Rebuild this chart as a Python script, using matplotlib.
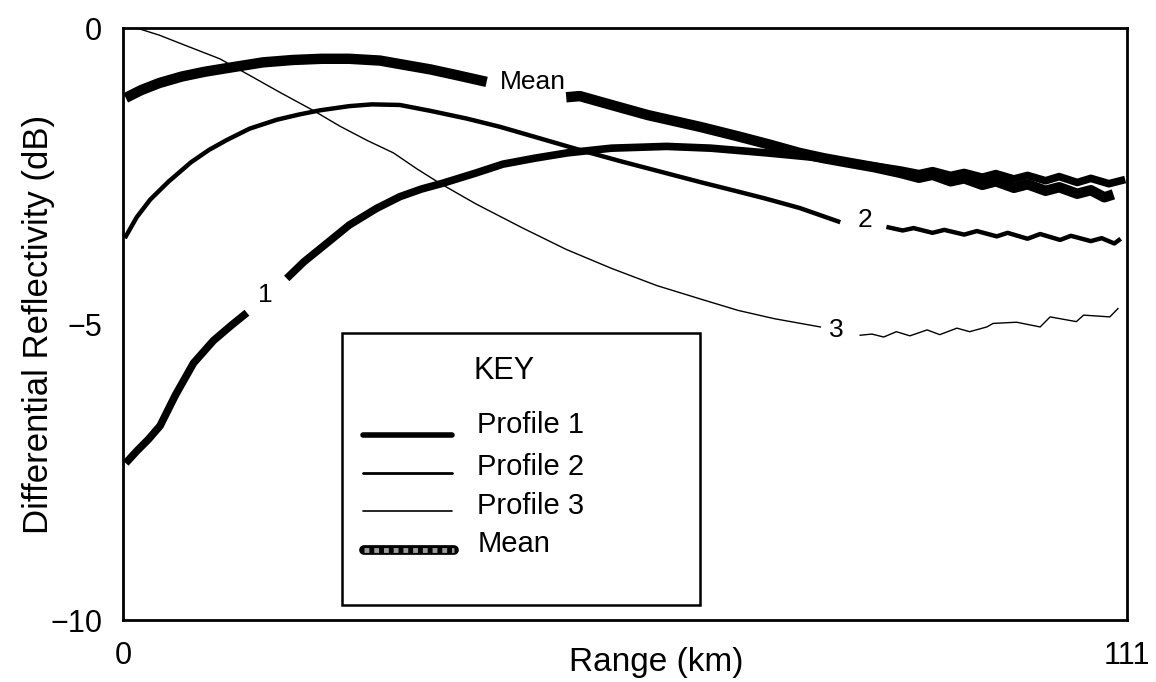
import matplotlib.pyplot as plt
import numpy as np
from matplotlib.lines import Line2D
from matplotlib.patches import Rectangle

plt.rcParams["font.family"] = ["Liberation Sans", "DejaVu Sans"]

nan = np.nan

p1_x = [0.3, 1.5, 2.8, 4.1, 5.8, 7.8, 10.0, 12.0, 13.7, nan, 18.1, 20.0, 22.1, 25.0, 28.0,
        30.6, 33.0, 35.4, 39.0, 42.0, 45.5, 49.1, 54.0, 60.1, 65.0, 71.2, 76.0, 80.4, 83.5,
        86.0, 88.0, 89.5, 91.5, 93.0, 95.0, 96.5, 98.5, 100.0, 102.0, 103.5, 105.5, 107.0,
        109.0, 110.8]
p1_y = [-7.35, -7.15, -6.95, -6.72, -6.20, -5.66, -5.28, -5.02, -4.81, nan, -4.23, -3.95,
        -3.69, -3.33, -3.05, -2.85, -2.72, -2.62, -2.45, -2.30, -2.20, -2.11, -2.03, -2.00,
        -2.03, -2.11, -2.18, -2.28, -2.34, -2.40, -2.46, -2.41, -2.49, -2.44, -2.52, -2.46,
        -2.55, -2.49, -2.58, -2.51, -2.61, -2.54, -2.63, -2.56]

p2_x = [0.2, 1.5, 3.0, 5.0, 7.5, 9.5, 11.5, 14.0, 17.0, 19.5, 21.8, 25.0, 27.5, 30.6, 34.0,
        38.0, 41.7, 46.0, 50.5, 55.0, 60.0, 64.0, 67.4, 71.0, 74.8, 79.3, nan, 84.4, 86.2,
        87.4, 89.5, 90.8, 93.0, 94.4, 96.6, 97.8, 100.0, 101.4, 103.6, 104.8, 107.0, 108.2,
        109.6, 110.3]
p2_y = [-3.55, -3.20, -2.90, -2.60, -2.27, -2.06, -1.89, -1.70, -1.55, -1.46, -1.39, -1.32,
        -1.29, -1.30, -1.40, -1.53, -1.67, -1.86, -2.06, -2.25, -2.45, -2.61, -2.74, -2.88,
        -3.04, -3.28, nan, -3.36, -3.42, -3.38, -3.46, -3.41, -3.49, -3.43, -3.52, -3.46,
        -3.56, -3.48, -3.58, -3.51, -3.60, -3.55, -3.64, -3.56]

p3_x = [1.5, 4.0, 7.0, 10.7, 14.0, 17.5, 21.0, 24.0, 27.0, 29.9, 32.5, 35.0, 39.0, 44.2,
        49.0, 54.0, 59.0, 64.1, 68.0, 72.0, 77.1, nan, 81.5, 82.8, 84.1, 85.5, 87.0, 88.9,
        90.3, 92.2, 93.6, 95.5, 96.2, 98.8, 101.4, 102.5, 105.4, 106.2, 109.1, 110.0]
p3_y = [0.0, -0.12, -0.30, -0.52, -0.80, -1.10, -1.39, -1.66, -1.90, -2.11, -2.38, -2.62,
        -2.97, -3.38, -3.74, -4.06, -4.35, -4.59, -4.77, -4.91, -5.05, nan, -5.19, -5.17,
        -5.22, -5.13, -5.20, -5.10, -5.18, -5.07, -5.13, -5.05, -4.99, -4.97, -5.05, -4.88,
        -4.96, -4.85, -4.88, -4.74]

mean_x = [0.3, 2.0, 4.0, 6.5, 9.0, 12.2, 15.5, 18.8, 22.0, 25.0, 28.4, 31.0, 34.0, 37.0,
          40.2, nan, 49.0, 50.5, 54.0, 58.0, 63.8, 68.0, 71.5, 74.8, 77.5, 80.4, 83.0, 86.0,
          88.0, 89.5, 91.5, 93.0, 95.0, 96.5, 98.5, 100.0, 102.0, 103.5, 105.5, 107.0,
          108.5, 109.5]
mean_y = [-1.18, -1.05, -0.93, -0.82, -0.74, -0.66, -0.58, -0.54, -0.52, -0.52, -0.55,
          -0.62, -0.70, -0.80, -0.91, nan, -1.17, -1.15, -1.30, -1.47, -1.67, -1.83, -1.97,
          -2.11, -2.20, -2.28, -2.35, -2.45, -2.53, -2.48, -2.59, -2.54, -2.65, -2.59, -2.70,
          -2.64, -2.75, -2.69, -2.80, -2.74, -2.86, -2.81]

# inline curve labels
inline_text = ["1", "2", "3", "Mean"]
inline_x = [15.7, 82.0, 78.9, 45.3]
inline_y = [-4.51, -3.24, -5.10, -0.91]

key_labels = ["Profile 1", "Profile 2", "Profile 3", "Mean"]
x_ticks = [0, 111]
y_ticks = [0, -5, -10]

fig = plt.figure(figsize=(11.56, 6.82), dpi=100)
ax = fig.add_axes([123 / 1156, 1 - 620 / 682, 1004 / 1156, 592 / 682])

ax.plot(mean_x, mean_y, color="black", lw=7.5, solid_capstyle="butt")
ax.plot(p1_x, p1_y, color="black", lw=5.5, solid_capstyle="butt")
ax.plot(p2_x, p2_y, color="black", lw=3.2, solid_capstyle="butt")
ax.plot(p3_x, p3_y, color="black", lw=1.0)

for t, xx, yy in zip(inline_text, inline_x, inline_y):
    ax.text(xx, yy, t, fontsize=19, ha="center", va="center", color="black")

ax.set_xlim(0, 111)
ax.set_ylim(-10, 0)
ax.set_xticks(x_ticks)
ax.set_xticklabels([str(v) for v in x_ticks])
ax.set_yticks(y_ticks)
ax.set_yticklabels([str(v).replace("-", "\u2212") for v in y_ticks])
ax.tick_params(axis="x", length=0, pad=15, labelsize=22)
ax.tick_params(axis="y", length=0, pad=15, labelsize=22)
for s in ax.spines.values():
    s.set_linewidth(2)

ax.set_xlabel("Range (km)", fontsize=24)
ax.xaxis.set_label_coords(0.531, -0.045)
ax.set_ylabel("Differential Reflectivity (dB)", fontsize=25)
ax.yaxis.set_label_coords(-0.068, 0.5)

# ── hand-drawn style key box ──
ax.add_patch(Rectangle((0.218, 0.025), 0.357, 0.46, transform=ax.transAxes,
                       fill=True, facecolor="white", edgecolor="black", lw=1.8, zorder=5))
ax.text(0.349, 0.421, "KEY", transform=ax.transAxes, fontsize=22, va="center", zorder=6)
row_text_y = [0.329, 0.258, 0.193, 0.128]
row_line_y = [0.313, 0.248, 0.184, 0.118]
sample_lw = [4.0, 2.0, 1.2]
for i, lab in enumerate(key_labels):
    ax.text(0.353, row_text_y[i], lab, transform=ax.transAxes, fontsize=21,
            va="center", zorder=6)
    if i < 3:
        ax.add_line(Line2D([0.239, 0.328], [row_line_y[i]] * 2, transform=ax.transAxes,
                           color="black", lw=sample_lw[i], solid_capstyle="round", zorder=6))
    else:
        ax.add_line(Line2D([0.240, 0.330], [row_line_y[i]] * 2, transform=ax.transAxes,
                           color="black", lw=7, solid_capstyle="round", zorder=6))
        ax.add_line(Line2D([0.240, 0.330], [row_line_y[i]] * 2, transform=ax.transAxes,
                           color="#9a9a9a", lw=3.5, dashes=(1, 1), zorder=7))

fig.savefig("out.png", dpi=100)
